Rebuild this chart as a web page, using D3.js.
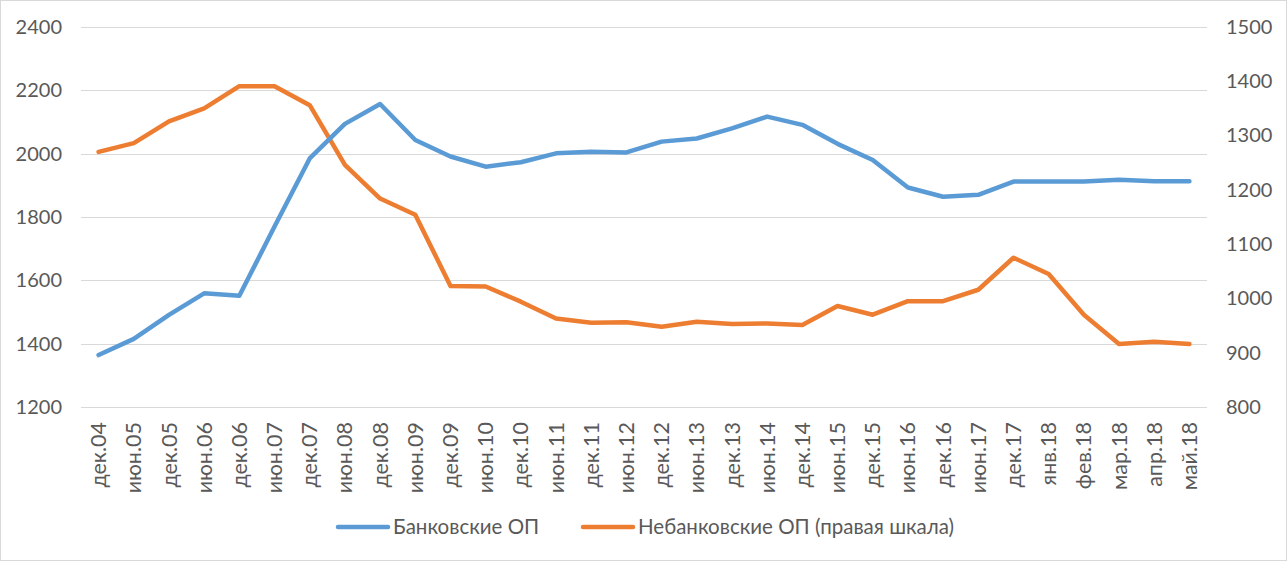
<!DOCTYPE html>
<html>
<head>
<meta charset="utf-8">
<style>
  body { margin: 0; background: #fff; }
  text { font-family: Lato, "Open Sans", sans-serif; fill: #595959; }
</style>
</head>
<body>
<svg width="1288" height="564"></svg>
<script src="https://d3js.org/d3.v7.min.js"></script>
<script>

var categories = ["дек.04", "июн.05", "дек.05", "июн.06", "дек.06", "июн.07", "дек.07", "июн.08",
  "дек.08", "июн.09", "дек.09", "июн.10", "дек.10", "июн.11", "дек.11", "июн.12", "дек.12",
  "июн.13", "дек.13", "июн.14", "дек.14", "июн.15", "дек.15", "июн.16", "дек.16", "июн.17",
  "дек.17", "янв.18", "фев.18", "мар.18", "апр.18", "май.18"];

// Банковские ОП (left axis)
var bank = [1364, 1415, 1491, 1559, 1551, 1770, 1985, 2094, 2157, 2043, 1991, 1959, 1973,
  2001, 2006, 2004, 2038, 2048, 2080, 2117, 2091, 2031, 1980, 1893, 1864, 1870, 1912, 1912,
  1912, 1918, 1913, 1913];

// Небанковские ОП (right axis)
var nonBank = [1270, 1286, 1326, 1350, 1391, 1391, 1356, 1246, 1184, 1154, 1023, 1022, 994,
  963, 955, 956, 948, 957, 953, 954, 951, 986, 970, 995, 995, 1016, 1075, 1045, 970, 916,
  920, 916];

var leftTicks = [1200, 1400, 1600, 1800, 2000, 2200, 2400];
var rightTicks = [800, 900, 1000, 1100, 1200, 1300, 1400, 1500];

var seriesNames = ["Банковские ОП", "Небанковские ОП (правая шкала)"];
var colors = ["#5b9bd5", "#ed7d31"];

var svg = d3.select("svg"),
    plotLeft = 81, plotRight = 1207, plotTop = 27, plotBottom = 407;

svg.append("rect")
    .attr("x", 0.5).attr("y", 0.5)
    .attr("width", 1286).attr("height", 560)
    .attr("fill", "#fff")
    .attr("stroke", "#d9d9d9");

var x = d3.scaleBand()
    .domain(categories)
    .range([plotLeft, plotRight]);

var y = d3.scaleLinear()
    .domain([1200, 2400])
    .range([plotBottom, plotTop]);

var y2 = d3.scaleLinear()
    .domain([800, 1500])
    .range([plotBottom, plotTop]);

// gridlines
svg.append("g")
  .selectAll("line")
  .data(leftTicks)
  .enter().append("line")
    .attr("x1", plotLeft).attr("x2", plotRight)
    .attr("y1", function(d) { return Math.round(y(d)) + 0.5; })
    .attr("y2", function(d) { return Math.round(y(d)) + 0.5; })
    .attr("stroke", "#d9d9d9")
    .attr("stroke-width", 1);

var yAxis = svg.append("g")
    .attr("transform", "translate(" + plotLeft + ",0)")
    .call(d3.axisLeft(y).tickValues(leftTicks).tickSize(0).tickPadding(19).tickFormat(d3.format("d")));
yAxis.select(".domain").remove();
yAxis.selectAll("text").style("font-size", "20px").attr("fill", "#595959");

var yAxis2 = svg.append("g")
    .attr("transform", "translate(" + plotRight + ",0)")
    .call(d3.axisRight(y2).tickValues(rightTicks).tickSize(0).tickPadding(19).tickFormat(d3.format("d")));
yAxis2.select(".domain").remove();
yAxis2.selectAll("text").style("font-size", "20px").attr("fill", "#595959");

var xAxis = svg.append("g")
    .attr("transform", "translate(0," + plotBottom + ")")
    .call(d3.axisBottom(x).tickSize(0));
xAxis.select(".domain").remove();
xAxis.selectAll("text")
    .style("font-size", "21.5px")
    .attr("fill", "#595959")
    .attr("transform", "rotate(-90)")
    .attr("text-anchor", "end")
    .attr("x", -15)
    .attr("y", 0)
    .attr("dy", "0.35em");

var lineBank = d3.line()
    .x(function(d, i) { return x(categories[i]) + x.bandwidth() / 2; })
    .y(function(d) { return y(d); });

var lineNon = d3.line()
    .x(function(d, i) { return x(categories[i]) + x.bandwidth() / 2; })
    .y(function(d) { return y2(d); });

svg.append("path")
    .datum(nonBank)
    .attr("fill", "none")
    .attr("stroke", colors[1])
    .attr("stroke-width", 4.5)
    .attr("stroke-linejoin", "round")
    .attr("stroke-linecap", "round")
    .attr("d", lineNon);

svg.append("path")
    .datum(bank)
    .attr("fill", "none")
    .attr("stroke", colors[0])
    .attr("stroke-width", 4.5)
    .attr("stroke-linejoin", "round")
    .attr("stroke-linecap", "round")
    .attr("d", lineBank);

// legend
var legendX = [338, 583];
var legend = svg.append("g")
  .selectAll("g")
  .data(seriesNames)
  .enter().append("g")
    .attr("transform", function(d, i) { return "translate(" + legendX[i] + ",527)"; });

legend.append("line")
    .attr("x1", 0).attr("x2", 50)
    .attr("stroke", function(d, i) { return colors[i]; })
    .attr("stroke-width", 4.5)
    .attr("stroke-linecap", "round");

legend.append("text")
    .attr("x", 55)
    .attr("dy", "0.35em")
    .style("font-size", "20.5px")
    .text(function(d) { return d; });

</script>
</body>
</html>
